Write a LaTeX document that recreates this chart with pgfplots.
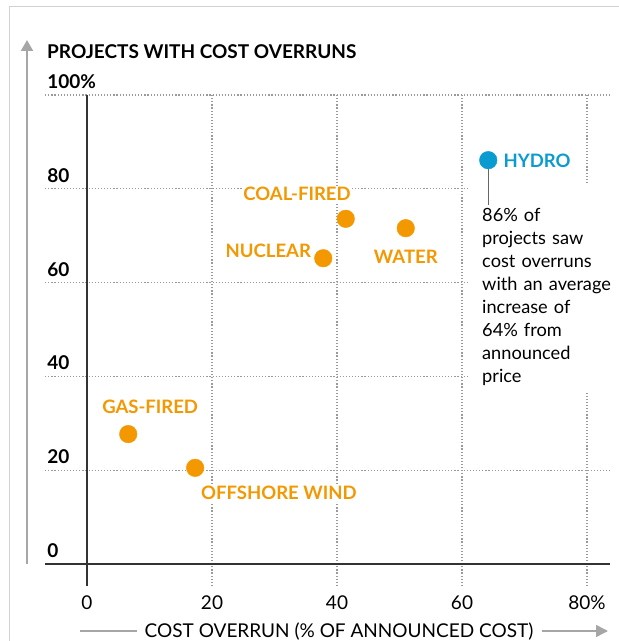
\documentclass[border=0pt]{standalone}
\usepackage{fontspec}
\setmainfont{Lato}
\usepackage{pgfplots}
\pgfplotsset{compat=1.18}
\usetikzlibrary{arrows.meta}
\definecolor{orng}{HTML}{F39800}
\definecolor{hblue}{HTML}{0A9BD0}
\definecolor{gridc}{HTML}{9A9A9A}
\definecolor{axc}{HTML}{333333}
\definecolor{arrc}{HTML}{A6A6A6}
\newcommand{\fs}{\fontsize{19}{22}\selectfont}
\newcommand{\fl}{\fontsize{18.5}{22}\selectfont}
\begin{document}
\begin{tikzpicture}
\path[use as bounding box] (0pt,0pt) rectangle (619pt,641pt);
\draw[color=black!18, line width=1pt] (9pt,0pt) -- (9pt,634pt) -- (619pt,634pt);
\draw[arrc, line width=2pt, -{Triangle[width=12pt,length=11pt]}] (27pt,77pt) -- (27pt,601pt);
\node[anchor=west, inner sep=0pt, font=\fontsize{19}{22}\selectfont\bfseries] at (47pt,589pt) {PROJECTS WITH COST OVERRUNS};
\node[anchor=base, inner sep=0pt, font=\fs] at (339pt,4pt) {COST OVERRUN (\% OF ANNOUNCED COST)};
\draw[arrc, line width=1.5pt] (80pt,10pt) -- (137pt,10pt);
\draw[arrc, line width=1.5pt, -{Triangle[width=12pt,length=12pt]}] (542pt,10pt) -- (608pt,10pt);
\begin{axis}[
  at={(45.125pt,54.957pt)}, anchor=south west,
  x=6.25pt, y=4.69pt,
  xmin=-6.7, xmax=83.7, ymin=-4.7, ymax=100,
  axis line style={draw=none},
  clip=false,
  xtick={20,40,60,80}, xticklabels={20,40,60,80\%},
  ytick={20,40,60,80,100}, yticklabels={20,40,60,80,100\%},
  extra x ticks={0}, extra x tick labels={0}, extra x tick style={grid=none},
  extra y ticks={0}, extra y tick labels={0}, extra y tick style={grid=none},
  major tick length=0pt,
  grid=major,
  major grid style={gridc, line width=1.2pt, dash pattern=on 1.2pt off 1.9pt},
  xticklabel style={font=\fs, anchor=base, yshift=-23.5pt},
  yticklabel style={font=\fs\bfseries, anchor=base west, inner xsep=0pt, xshift=2pt, yshift=6.5pt},
  /pgf/number format/assume math mode=true,
]
\fill[white] (axis cs:61.3,36.5) rectangle (axis cs:86,81.3);
\draw[color=black!60, line width=1.5pt] (axis cs:64.2,86) -- (axis cs:64.2,76.5);
\addplot[only marks, mark=*, mark size=8.8pt, color=orng] coordinates {(6.6,27.7) (17.3,20.5) (37.8,65.2) (41.4,73.6) (51.0,71.6)};
\addplot[only marks, mark=*, mark size=8.8pt, color=hblue] coordinates {(64.2,86.1)};
\draw[axc, line width=1.5pt] (axis cs:-6.7,0) -- (axis cs:83.7,0);
\draw[axc, line width=1.5pt] (axis cs:0,-4.7) -- (axis cs:0,100);
\tikzset{lbl/.style={font=\fl\bfseries, text=orng, fill=white, inner sep=1.5pt}}
\node[lbl] at (axis cs:10.1,33.5) {GAS-FIRED};
\node[lbl] at (axis cs:30.7,15.1) {OFFSHORE WIND};
\node[lbl] at (axis cs:29.0,66.7) {NUCLEAR};
\node[lbl] at (axis cs:33.6,78.9) {COAL-FIRED};
\node[lbl] at (axis cs:51.0,65.5) {WATER};
\node[lbl, text=hblue] at (axis cs:72.0,85.9) {HYDRO};
\node[anchor=north west, text width=134pt, align=left, inner sep=0pt, font=\fontsize{18.2}{23}\selectfont] at (axis cs:63.2,75.8) {86\% of\\ projects saw\\ cost overruns\\ with an average\\ increase of\\ 64\% from\\ announced\\ price};
\end{axis}
\end{tikzpicture}
\end{document}
